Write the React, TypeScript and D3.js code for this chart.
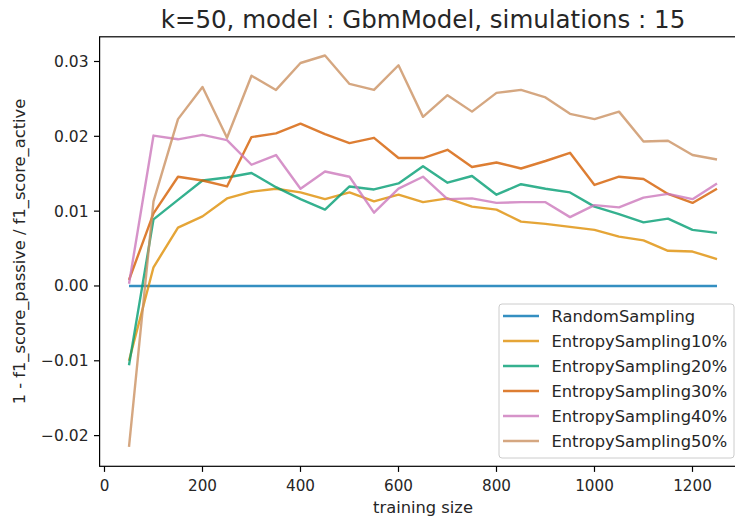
import React from 'react';
import * as d3 from 'd3';

const trainingSize = [50, 100, 150, 200, 250, 300, 350, 400, 450, 500, 550, 600, 650, 700, 750, 800, 850, 900, 950, 1000, 1050, 1100, 1150, 1200, 1250];

const randomSampling = [0, 0, 0, 0, 0, 0, 0, 0, 0, 0, 0, 0, 0, 0, 0, 0, 0, 0, 0, 0, 0, 0, 0, 0, 0];
const entropy10 = [-0.0100, 0.0025, 0.0078, 0.0093, 0.0117, 0.0126, 0.0130, 0.0125, 0.0116, 0.0125, 0.0113, 0.0122, 0.0112, 0.0117, 0.0106, 0.0102, 0.0086, 0.0083, 0.0079, 0.0075, 0.0066, 0.0061, 0.0047, 0.0046, 0.0036];
const entropy20 = [-0.0106, 0.0089, 0.0115, 0.0141, 0.0145, 0.0151, 0.0132, 0.0116, 0.0102, 0.0133, 0.0129, 0.0137, 0.0160, 0.0138, 0.0147, 0.0122, 0.0136, 0.0130, 0.0125, 0.0106, 0.0096, 0.0085, 0.0090, 0.0075, 0.0071];
const entropy30 = [0.0008, 0.0097, 0.0146, 0.0141, 0.0133, 0.0199, 0.0204, 0.0217, 0.0203, 0.0191, 0.0198, 0.0171, 0.0171, 0.0182, 0.0159, 0.0165, 0.0157, 0.0167, 0.0178, 0.0135, 0.0146, 0.0143, 0.0123, 0.0111, 0.0130];
const entropy40 = [0.0003, 0.0201, 0.0196, 0.0202, 0.0195, 0.0162, 0.0175, 0.0130, 0.0153, 0.0146, 0.0098, 0.0130, 0.0146, 0.0116, 0.0117, 0.0111, 0.0112, 0.0112, 0.0092, 0.0108, 0.0105, 0.0118, 0.0123, 0.0116, 0.0137];
const entropy50 = [-0.0215, 0.0113, 0.0223, 0.0266, 0.0198, 0.0281, 0.0262, 0.0298, 0.0308, 0.0270, 0.0262, 0.0295, 0.0226, 0.0255, 0.0233, 0.0258, 0.0262, 0.0252, 0.0230, 0.0223, 0.0233, 0.0193, 0.0194, 0.0175, 0.0169];

const seriesNames = ['RandomSampling', 'EntropySampling10%', 'EntropySampling20%', 'EntropySampling30%', 'EntropySampling40%', 'EntropySampling50%'];
const seriesValues = [randomSampling, entropy10, entropy20, entropy30, entropy40, entropy50];
const colors = ['#0173b2', '#de8f05', '#029e73', '#d55e00', '#cc78bc', '#ca9161'];

const xTicks = [0, 200, 400, 600, 800, 1000, 1200];
const yTicks = [-0.02, -0.01, 0, 0.01, 0.02, 0.03];

const W = 735;
const H = 521;
const FONT = 'DejaVu Sans, sans-serif';
const TEXT = '#262626';

export default function App() {
  const x = d3.scaleLinear().domain([-10, 1310]).range([99.6, 746.4]);
  const y = d3.scaleLinear().domain([-0.0241, 0.0333]).range([466.3, 36.8]);
  const [x0, x1] = x.range();
  const [yb, yt] = y.range();

  const line = d3.line<[number, number]>()
    .x(d => x(d[0]))
    .y(d => y(d[1]));

  const legendX = 499;
  const legendY = 304;
  const rowH = 25;

  return (
    <div style={{ position: 'absolute', left: 0, top: 0 }}>
      <svg width={W} height={H} style={{ display: 'block', background: '#fff' }} fontFamily={FONT}>
        <defs>
          <clipPath id="plot">
            <rect x={x0} y={yt} width={x1 - x0} height={yb - yt} />
          </clipPath>
        </defs>

        <text x={(x0 + x1) / 2} y={27.5} textAnchor="middle" fontSize={24.5} fill={TEXT}>
          k=50, model : GbmModel, simulations : 15
        </text>

        <g clipPath="url(#plot)">
          {seriesValues.map((vals, i) => (
            <path
              key={seriesNames[i]}
              d={line(trainingSize.map((t, j) => [t, vals[j]] as [number, number])) || ''}
              fill="none"
              stroke={colors[i]}
              strokeOpacity={0.8}
              strokeWidth={2.4}
              strokeLinejoin="round"
            />
          ))}
        </g>

        {/* spines */}
        <rect x={x0} y={yt} width={x1 - x0} height={yb - yt} fill="none" stroke="#000" strokeWidth={1.2} />

        {xTicks.map(t => (
          <g key={t}>
            <line x1={x(t)} x2={x(t)} y1={yb} y2={yb + 5.6} stroke="#000" strokeWidth={1.2} />
            <text x={x(t)} y={yb + 25} textAnchor="middle" fontSize={15.2} fill={TEXT}>{t}</text>
          </g>
        ))}
        {yTicks.map(t => (
          <g key={t}>
            <line x1={x0 - 5.6} x2={x0} y1={y(t)} y2={y(t)} stroke="#000" strokeWidth={1.2} />
            <text x={x0 - 11} y={y(t) + 5.5} textAnchor="end" fontSize={15.5} fill={TEXT}>
              {t < 0 ? '\u2212' + Math.abs(t).toFixed(2) : t.toFixed(2)}
            </text>
          </g>
        ))}

        <text x={(x0 + x1) / 2} y={513} textAnchor="middle" fontSize={16.3} fill={TEXT}>training size</text>
        <text transform={`translate(25,${(yt + yb) / 2}) rotate(-90)`} textAnchor="middle" fontSize={16.3} fill={TEXT}>
          1 - f1_score_passive / f1_score_active
        </text>

        <g>
          <rect x={legendX} y={legendY} width={235} height={154} rx={3} fill="#fff" fillOpacity={0.8} stroke="#cccccc" strokeWidth={1} />
          {seriesNames.map((name, i) => {
            const cy = legendY + 12 + i * rowH;
            return (
              <g key={name}>
                <line x1={legendX + 4} x2={legendX + 40} y1={cy} y2={cy} stroke={colors[i]} strokeOpacity={0.8} strokeWidth={2.4} />
                <text x={legendX + 52.5} y={cy + 6} fontSize={16.3} fill={TEXT}>{name}</text>
              </g>
            );
          })}
        </g>
      </svg>
    </div>
  );
}
